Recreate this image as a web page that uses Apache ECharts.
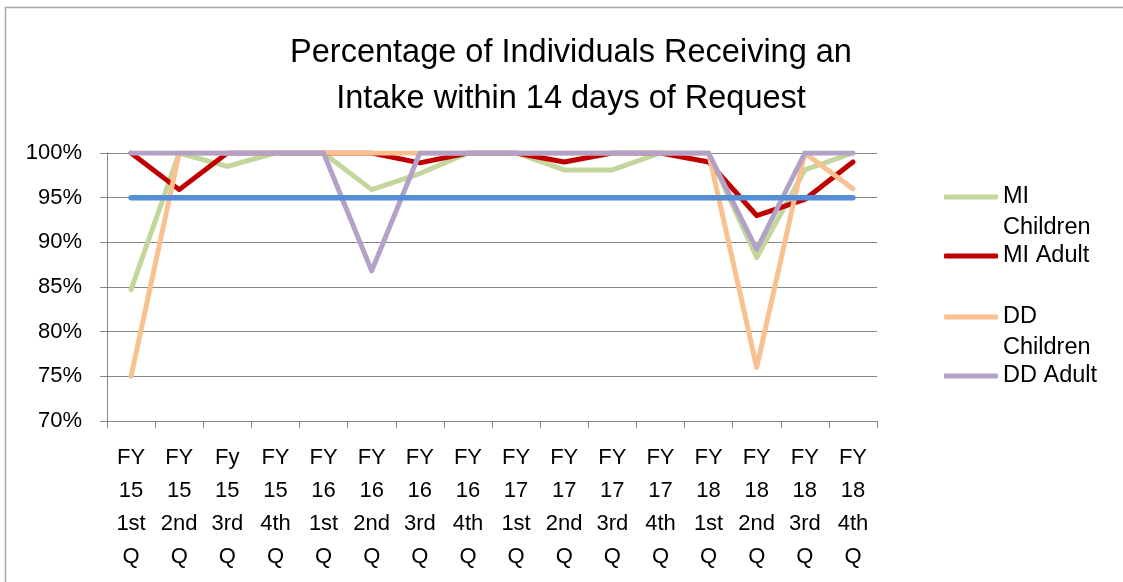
<!DOCTYPE html>
<html>
<head>
<meta charset="utf-8">
<script src="https://cdn.jsdelivr.net/npm/echarts@6/dist/echarts.min.js"></script>
<style>
  html, body { margin: 0; padding: 0; background: #fff; }
  #main { width: 1123px; height: 582px; }
</style>
</head>
<body>
<div id="main"></div>
<script>
// quarters on the x axis
var quarters = [
	'FY\n15\n1st\nQ', 'FY\n15\n2nd\nQ', 'Fy\n15\n3rd\nQ', 'FY\n15\n4th\nQ',
	'FY\n16\n1st\nQ', 'FY\n16\n2nd\nQ', 'FY\n16\n3rd\nQ', 'FY\n16\n4th\nQ',
	'FY\n17\n1st\nQ', 'FY\n17\n2nd\nQ', 'FY\n17\n3rd\nQ', 'FY\n17\n4th\nQ',
	'FY\n18\n1st\nQ', 'FY\n18\n2nd\nQ', 'FY\n18\n3rd\nQ', 'FY\n18\n4th\nQ'
];

var miChildren = [84.7, 100, 98.5, 100, 100, 95.9, 97.7, 100, 100, 98.1, 98.1, 100, 100, 88.3, 98.1, 100];
var miAdult    = [100, 95.9, 100, 100, 100, 100, 98.9, 100, 100, 99.0, 100, 100, 99.0, 93.0, 94.8, 99.0];
var ddChildren = [75, 100, 100, 100, 100, 100, 100, 100, 100, 100, 100, 100, 100, 76, 100, 96];
var ddAdult    = [100, 100, 100, 100, 100, 86.8, 100, 100, 100, 100, 100, 100, 100, 89.2, 100, 100];
var target     = [95, 95, 95, 95, 95, 95, 95, 95, 95, 95, 95, 95, 95, 95, 95, 95];

var yTicks = [70, 75, 80, 85, 90, 95, 100];

var font = 'Liberation Sans';
var grey = '#868686';

let myChart = echarts.init(document.getElementById('main'));

function lineSeries(name, data, color, width) {
	return {
		name: name,
		type: 'line',
		data: data,
		symbol: 'none',
		animation: false,
		color: color,
		lineStyle: {
			color: color,
			width: width,
			cap: 'round',
			join: 'round'
		}
	};
}

// one legend per entry; wrapped names get a leading blank line
// so the icon lines up with the first line of text
function legendItem(name, label, top) {
	return {
		data: [name],
		orient: 'vertical',
		left: 944,
		top: top,
		padding: 0,
		icon: 'roundRect',
		itemWidth: 54,
		itemHeight: 5,
		formatter: function () { return label; },
		textStyle: {
			fontFamily: font,
			fontSize: 23.5,
			lineHeight: 31,
			color: '#000'
		}
	};
}

var option = {
	backgroundColor: '#fff',
	title: {
		text: 'Percentage of Individuals Receiving an\nIntake within 14 days of Request',
		left: 571,
		top: 30,
		padding: 0,
		textAlign: 'center',
		textStyle: {
			fontFamily: font,
			fontSize: 32.5,
			fontWeight: 'normal',
			lineHeight: 46,
			color: '#000'
		}
	},
	legend: [
		legendItem('MI Children', '\nMI\nChildren', 150.5),
		legendItem('MI Adult', 'MI Adult', 240.5),
		legendItem('DD Children', '\nDD\nChildren', 270.5),
		legendItem('DD Adult', 'DD Adult', 360.5)
	],
	grid: {
		left: 107,
		right: 246,
		top: 153,
		bottom: 161
	},
	xAxis: {
		type: 'category',
		data: quarters,
		boundaryGap: true,
		axisLine: { lineStyle: { color: grey, width: 1 } },
		axisTick: { show: true, length: 7, lineStyle: { color: grey } },
		axisLabel: {
			interval: 0,
			margin: 20,
			fontFamily: font,
			fontSize: 22,
			lineHeight: 33,
			color: '#000'
		}
	},
	yAxis: {
		type: 'value',
		min: yTicks[0],
		max: yTicks[yTicks.length - 1],
		interval: 5,
		axisLine: { show: true, lineStyle: { color: grey, width: 1 } },
		axisTick: { show: true, length: 7, lineStyle: { color: grey } },
		splitLine: { show: true, lineStyle: { color: grey, width: 1 } },
		axisLabel: {
			margin: 25,
			fontFamily: font,
			fontSize: 22,
			color: '#000',
			formatter: '{value}%'
		}
	},
	series: [
		lineSeries('MI Children', miChildren, '#c3d69b', 5),
		lineSeries('MI Adult', miAdult, '#c00000', 5),
		lineSeries('DD Children', ddChildren, '#fac090', 5),
		lineSeries('DD Adult', ddAdult, '#b3a2c7', 5),
		lineSeries('Target', target, '#558ed5', 5.5)
	],
	graphic: [{
		type: 'rect',
		silent: true,
		shape: { x: 5.5, y: 7.5, width: 1200, height: 700 },
		style: { fill: 'none', stroke: '#a6a6a6', lineWidth: 1.5 }
	}]
};

myChart.setOption(option);
</script>
</body>
</html>
